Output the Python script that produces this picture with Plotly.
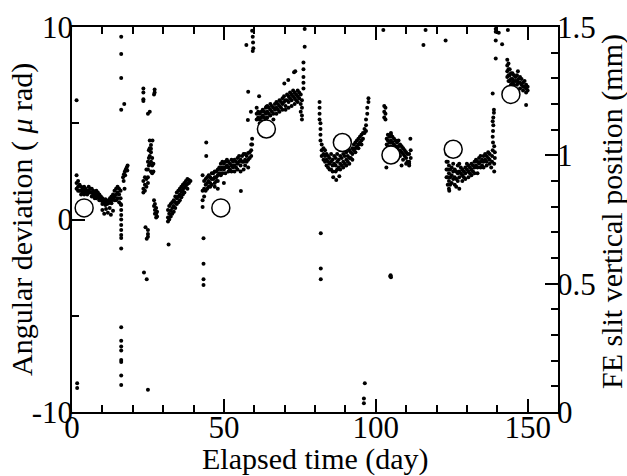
import plotly.graph_objects as go

# ---- data: (day, value, value, ...) ----
seg_a = [(1.5, 2.3, 1.9, 1.6), (2.0, 2.0, 1.7, 1.5), (2.5, 1.8, 1.5), (3.0, 1.7, 1.5, 1.3), (3.5, 1.6, 1.4),
         (4.0, 1.7, 1.5, 1.3), (4.5, 1.6, 1.4), (5.0, 1.5, 1.3), (5.5, 1.7, 1.5, 1.4), (6.0, 1.6, 1.4),
         (6.5, 1.6, 1.4, 1.2), (7.0, 1.5, 1.3), (7.5, 1.4, 1.2, 1.1), (8.0, 1.5, 1.3, 1.1), (8.5, 1.4, 1.2),
         (9.0, 1.3, 1.1, 1.0), (9.5, 1.2, 1.0), (10.0, 1.1, 0.95, 0.8), (10.5, 1.0, 0.85), (11.0, 1.05, 0.9, 0.75),
         (11.5, 0.95, 0.8), (12.0, 1.0, 0.85), (12.5, 1.1, 0.9), (13.0, 1.2, 1.0, 0.85), (13.5, 1.3, 1.1),
         (14.0, 1.5, 1.2, 1.0), (14.5, 1.6, 1.3, 1.0), (15.0, 1.7, 1.4, 1.1), (15.5, 1.6, 1.3, 0.9), (16.0, 1.5, 1.1, 0.8)]
seg_a_extra = [(10.0, 0.5), (10.6, 0.3), (11.2, 0.55), (11.8, 0.35), (12.4, 0.6), (12.8, 0.25), (13.5, 0.45),
               (16.2, 0.75, 0.5, 0.23, 0.0, -0.28, -0.55, -0.8, -0.96, -1.5, -5.6, -6.3, -6.6, -6.8, -7.3, -7.4, -8.1, -8.6,
                5.7, 7.35, 8.6, 9.5), (17.2, 6.0), (1.5, 6.2), (1.7, -8.5, -8.75)]
seg_b = [(16.8, 2.2), (17.1, 2.35), (17.4, 2.5), (17.7, 2.6), (18.0, 2.7), (18.3, 2.8), (17.0, 2.0),
         (17.5, 2.3), (18.2, 2.55), (17.3, 1.6)]
seg_c = [(23.5, 2.0, 1.6, 1.4), (24.0, 2.2, 1.8, 1.5), (24.5, 2.6, 2.1, 1.7), (25.0, 3.0, 2.6, 2.2, 1.9),
         (25.3, 3.6, 3.2, 2.8), (25.6, 4.1, 3.7, 3.3, 2.9), (26.0, 3.5, 3.0, 2.5), (26.4, 3.2, 2.8, 2.4),
         (26.8, 2.9, 2.5), (27.0, 1.0, 0.7), (27.3, 0.8, 0.5, 0.3), (27.7, 0.6, 0.3, 0.1), (28.0, 0.4, 0.15)]
seg_c_extra = [(23.5, 6.8, 6.6, 6.25, 6.15), (27.2, 6.75, 6.6), (27.0, 6.5), (25.0, 5.5, -0.55, -0.75, -0.9, -8.85),
               (25.6, 5.6), (26.5, 4.1), (26.0, 3.87, 3.68), (23.7, -2.75), (24.6, -3.1, -1.0), (24.2, -0.4)]
seg_d = [(31.6, 0.5, 0.1, -0.1), (32.0, 0.7, 0.3, 0.0), (32.5, 0.8, 0.45, 0.15), (33.0, 0.9, 0.6, 0.3),
         (33.5, 1.0, 0.7, 0.4), (34.0, 1.2, 0.9, 0.6), (34.5, 1.4, 1.1, 0.8), (35.0, 1.5, 1.2, 0.9),
         (35.5, 1.6, 1.3, 1.0), (36.0, 1.7, 1.45, 1.15), (36.5, 1.8, 1.55, 1.3), (37.0, 1.9, 1.65, 1.4),
         (37.5, 2.0, 1.75), (38.0, 2.1, 1.85, 1.6), (38.5, 2.05, 1.9), (39.0, 2.0), (31.8, -1.3)]
seg_e = [(43.0, 2.3, 1.5, 1.0, 0.65), (43.5, 2.0, 1.6, 1.2), (44.0, 2.1, 1.8, 1.5), (44.5, 2.2, 1.9, 1.6),
         (45.0, 2.3, 2.0, 1.7), (45.5, 2.2, 1.9, 1.7), (46.0, 2.4, 2.1, 1.8), (46.5, 2.4, 2.1),
         (47.0, 2.5, 2.2, 1.9), (47.5, 2.5, 2.2, 2.0), (48.0, 2.6, 2.3, 2.0), (48.5, 2.7, 2.4),
         (49.0, 2.9, 2.6, 2.3), (49.5, 3.0, 2.7, 2.4), (50.0, 2.9, 2.6), (50.5, 3.0, 2.7, 2.4), (51.0, 3.1, 2.8),
         (51.5, 3.0, 2.7, 2.5), (52.0, 2.9, 2.6), (52.5, 3.1, 2.8, 2.5), (53.0, 3.0, 2.7), (53.5, 3.1, 2.8, 2.5),
         (54.0, 3.0, 2.7), (54.5, 3.2, 2.9, 2.6), (55.0, 3.3, 3.0), (55.5, 3.1, 2.8, 2.5), (56.0, 3.3, 3.0),
         (56.5, 3.4, 3.0, 2.6), (57.0, 3.4, 3.1, 2.8), (57.5, 3.3, 3.0), (58.0, 3.45, 3.1, 2.7), (58.5, 3.5, 3.2),
         (59.0, 3.9, 3.6, 3.3), (59.3, 4.2, 3.9)]
seg_e_extra = [(44.2, 4.0, 3.3), (43.3, -0.98, -2.3, -3.1, -3.4), (55.6, 1.48), (47.0, 1.7), (48.0, 1.6), (50.0, 1.9)]
seg_f = [(60.8, 5.8, 5.5, 5.2), (61.3, 5.6, 5.3), (61.8, 5.5, 5.2, 5.0), (62.3, 5.6, 5.3), (62.8, 5.7, 5.4, 5.1),
         (63.3, 5.6, 5.3), (63.8, 5.8, 5.5, 5.2), (64.3, 5.9, 5.6, 5.3), (64.8, 5.8, 5.5), (65.3, 6.0, 5.7, 5.4),
         (65.8, 5.9, 5.6), (66.3, 5.8, 5.5, 5.2), (66.8, 6.0, 5.7), (67.3, 6.1, 5.8, 5.5), (67.8, 6.0, 5.7),
         (68.3, 6.2, 5.9, 5.6), (68.8, 6.1, 5.8), (69.3, 6.3, 6.0, 5.7), (69.8, 6.4, 6.1), (70.3, 6.2, 5.9, 5.7),
         (70.8, 6.5, 6.2), (71.3, 6.4, 6.1, 5.8), (71.8, 6.6, 6.3), (72.3, 6.5, 6.2, 5.9), (72.8, 6.7, 6.4),
         (73.3, 6.6, 6.3, 6.0), (73.8, 6.5, 6.2), (74.3, 6.7, 6.4, 6.1), (74.8, 6.6, 6.3), (75.3, 6.5, 6.0, 5.6),
         (75.7, 6.2, 5.8, 5.4, 5.2), (76.2, 7.8, 7.4, 7.1, 6.8)]
seg_f_extra = [(61.6, 6.4), (58.0, 6.64), (58.9, 5.6), (57.9, 5.17), (64.0, 5.86), (69.9, 7.07), (71.2, 7.25),
               (73.1, 7.65), (73.5, 7.7), (76.2, 8.15), (76.6, 8.97, 9.9), (57.4, 9.06), (59.3, 9.8),
               (59.5, 9.5, 8.75), (59.6, 9.2), (59.7, 8.9)]
seg_g = [(81.5, 6.1, 5.8, 5.5, 5.2), (81.8, 5.0, 4.7, 4.4, 4.1), (82.2, 3.9, 3.6, 3.3), (82.8, 3.7, 3.4, 3.1),
         (83.3, 3.6, 3.3, 3.0), (83.8, 3.4, 3.1, 2.8), (84.3, 3.3, 3.0, 2.7), (84.8, 3.2, 2.9, 2.6),
         (85.3, 3.4, 3.0, 2.6), (85.8, 3.1, 2.8, 2.5), (86.3, 3.3, 2.9), (86.8, 3.2, 2.8, 2.5), (87.3, 3.4, 3.0, 2.6),
         (87.8, 3.1, 2.7), (88.3, 3.3, 2.9, 2.6), (88.8, 3.2, 2.8), (89.3, 3.4, 3.0, 2.7), (89.8, 3.3, 2.9),
         (90.3, 3.5, 3.1, 2.8), (90.8, 3.3, 3.0), (91.3, 3.6, 3.2, 2.9), (91.8, 3.5, 3.2), (92.3, 3.7, 3.4, 3.1),
         (92.8, 3.9, 3.6), (93.3, 4.0, 3.7, 3.5), (93.8, 4.1, 3.8), (94.3, 4.2, 3.9, 3.7), (94.8, 4.3, 4.0),
         (95.3, 4.4, 4.1, 3.9), (95.8, 4.5, 4.2), (96.3, 4.7, 4.5), (96.8, 5.2, 4.9, 4.6), (97.2, 5.8, 5.5),
         (97.6, 6.3, 6.1)]
seg_g_extra = [(86.0, 2.2), (87.0, 2.05), (88.0, 2.25), (81.9, -0.72, -2.55, -3.1), (96.4, -8.5), (96.1, -9.3, -9.55)]
seg_h = [(102.8, 5.9, 5.6, 5.3), (103.2, 5.8, 5.5, 5.2), (103.6, 4.2, 3.9), (104.0, 4.4, 4.1, 3.8),
         (104.5, 4.3, 4.0, 3.7), (105.0, 4.4, 4.1, 3.8), (105.5, 4.3, 4.0), (106.0, 4.2, 3.9, 3.6), (106.5, 4.1, 3.8),
         (107.0, 4.0, 3.7, 3.4), (107.5, 4.1, 3.8), (108.0, 3.9, 3.6, 3.3), (108.5, 3.8, 3.5), (109.0, 3.7, 3.4, 3.1),
         (109.5, 3.6, 3.3), (110.0, 3.5, 3.2, 2.9), (110.4, 3.4, 3.0), (111.0, 3.4, 3.0, 2.9), (111.5, 3.6, 3.2)]
seg_h_extra = [(105.0, 4.5, -3.0), (103.5, 2.7), (108.5, 2.8), (111.0, 2.8), (111.4, 4.2), (104.9, -2.9), (104.8, -2.95)]
seg_i = [(123.3, 3.4, 3.0, 2.6, 2.2), (123.7, 3.0, 2.6, 2.2, 1.8), (124.1, 2.8, 2.4, 2.0, 1.6), (124.5, 2.6, 2.2, 1.8),
         (125.0, 2.7, 2.3, 1.9), (125.5, 2.9, 2.5, 2.1), (126.0, 2.6, 2.2, 1.8), (126.5, 2.5, 2.1, 1.7),
         (127.0, 2.8, 2.4, 2.0), (127.5, 2.9, 2.5, 2.2), (128.0, 2.7, 2.4), (128.5, 2.6, 2.3, 2.0), (129.0, 2.5, 2.2),
         (129.5, 2.7, 2.4, 2.1), (130.0, 2.9, 2.6), (130.5, 2.8, 2.5, 2.2), (131.0, 2.7, 2.4), (131.5, 2.9, 2.6, 2.3),
         (132.0, 2.8, 2.5), (132.5, 3.0, 2.7, 2.4), (133.0, 3.1, 2.8), (133.5, 3.0, 2.7, 2.4), (134.0, 3.2, 2.9),
         (134.5, 3.3, 3.0, 2.7), (135.0, 3.1, 2.8), (135.5, 3.3, 3.0, 2.7), (136.0, 3.4, 3.1), (136.5, 3.3, 3.0, 2.8),
         (137.0, 3.5, 3.2), (137.5, 3.4, 3.1, 2.9), (124.2, 1.5), (127.5, 1.6)]
seg_j = [(138.0, 2.7), (138.3, 3.0, 3.3), (138.5, 3.6, 4.3, 5.1, 6.55), (138.6, 4.0, 4.6), (138.7, 4.9, 5.3),
         (138.9, 5.55, 5.7), (139.0, 2.5, 2.9, 3.8), (139.2, 3.2, 3.5),
         (139.5, 9.9, 9.75, 9.3, 8.37), (140.5, 9.7), (143.5, 9.85), (141.6, 9.1), (115.7, 9.06), (123.0, 9.3),
         (102.5, 9.84), (116.4, 9.84)]
seg_k = [(143.3, 8.3, 8.0, 7.7, 7.4), (143.7, 8.1, 7.8, 7.5, 7.2), (144.1, 7.8, 7.5, 7.2), (144.5, 7.6, 7.3, 7.0),
         (145.0, 7.6, 7.3, 7.1), (145.5, 7.5, 7.2, 7.0), (146.0, 7.4, 7.2), (146.5, 7.5, 7.2, 7.0), (147.0, 7.3, 7.1),
         (147.5, 7.4, 7.1, 6.8), (148.0, 7.3, 7.0), (148.5, 7.1, 6.9, 6.7), (149.0, 7.2, 6.9), (149.5, 7.0, 6.8, 6.6),
         (150.0, 6.9, 6.7), (146.8, 7.7), (149.5, 5.95)]

# open circles (FE slit vertical position, plotted on the angular scale)
circle_day = [4, 49, 64, 89, 105, 125.5, 144.5]
circle_val = [0.6, 0.6, 4.7, 4.0, 3.35, 3.65, 6.5]

x_ticks = [0, 50, 100, 150]
y_ticks = [-10, 0, 10]
y_tick_text = ["-10", "0", "10"]
y2_ticks = [0, 0.5, 1, 1.5]
y2_tick_text = ["0", "0.5", "1", "1.5"]

segments = [seg_a, seg_a_extra, seg_b, seg_c, seg_c_extra, seg_d, seg_e, seg_e_extra,
            seg_f, seg_f_extra, seg_g, seg_g_extra, seg_h, seg_h_extra, seg_i, seg_j, seg_k]
pts_x, pts_y = [], []
for seg in segments:
    for row in seg:
        for v in row[1:]:
            pts_x.append(row[0])
            pts_y.append(v)

W, H = 627, 476
L, R, T, B = 72, 69, 27, 64
font_family = "Liberation Serif"

fig = go.Figure()
fig.add_trace(go.Scatter(x=pts_x, y=pts_y, mode="markers",
                         marker=dict(size=4, color="black"), showlegend=False, hoverinfo="skip"))
fig.add_trace(go.Scatter(x=circle_day, y=circle_val, mode="markers",
                         marker=dict(size=18, color="white", line=dict(color="black", width=1.5)),
                         showlegend=False))
fig.add_trace(go.Scatter(x=[None], y=[None], yaxis="y2", showlegend=False))

tickfont = dict(family=font_family, size=31, color="black")
minor_common = dict(ticks="inside", ticklen=7, tickwidth=1.5, tickcolor="black")
fig.update_layout(
    width=W, height=H,
    margin=dict(l=L, r=R, t=T, b=B, autoexpand=False),
    paper_bgcolor="white", plot_bgcolor="white",
    xaxis=dict(range=[0, 160], tickvals=x_ticks, ticks="inside", ticklen=13, tickwidth=1.5,
               tickcolor="black", minor=dict(dtick=10, **minor_common),
               showline=True, linewidth=1.5, linecolor="black", mirror="ticks", showgrid=False, zeroline=False,
               tickfont=tickfont, ticklabelstandoff=-13),
    yaxis=dict(range=[-10, 10], tickvals=y_ticks, ticktext=y_tick_text, ticks="inside", ticklen=13, tickwidth=1.5,
               tickcolor="black", minor=dict(dtick=5, **minor_common),
               showline=True, linewidth=1.5, linecolor="black", showgrid=False, zeroline=False,
               tickfont=tickfont, ticklabelstandoff=-9),
    yaxis2=dict(range=[0, 1.5], overlaying="y", side="right", tickvals=y2_ticks,
                ticktext=y2_tick_text, ticks="inside", ticklen=13, tickwidth=1.5, tickcolor="black",
                minor=dict(dtick=0.1, **minor_common),
                showline=True, linewidth=1.5, linecolor="black", showgrid=False, zeroline=False,
                tickfont=tickfont, ticklabelstandoff=-9),
)

plot_w = W - L - R
plot_h = H - T - B
def px_to_paper_x(px):
    return (px - L) / plot_w
def py_to_paper_y(py):
    return (H - B - py) / plot_h

title_font = dict(family=font_family, size=30, color="black")
fig.add_annotation(text="Elapsed time (day)", x=px_to_paper_x(315), y=py_to_paper_y(459), xref="paper", yref="paper",
                   showarrow=False, font=title_font, xanchor="center", yanchor="middle")
fig.add_annotation(text="Angular deviation ( <i>μ</i> rad)", x=px_to_paper_x(22), y=py_to_paper_y(220),
                   xref="paper", yref="paper", showarrow=False, textangle=-90,
                   font=title_font, xanchor="center", yanchor="middle")
fig.add_annotation(text="FE slit vertical position (mm)", x=px_to_paper_x(612), y=py_to_paper_y(212),
                   xref="paper", yref="paper", showarrow=False, textangle=-90,
                   font=title_font, xanchor="center", yanchor="middle")

fig.write_html("out.html", config={"displayModeBar": False},
               post_script="document.body.style.margin='0';document.body.style.overflow='hidden';")
